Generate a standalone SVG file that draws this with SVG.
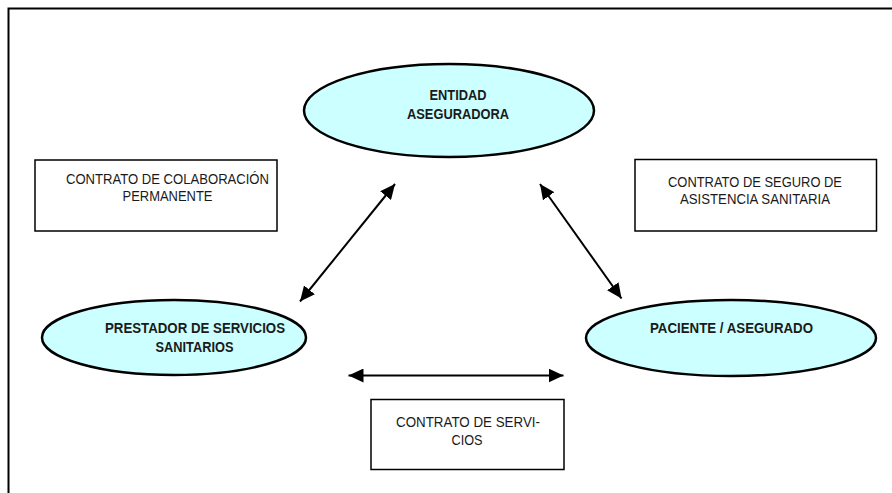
<svg xmlns="http://www.w3.org/2000/svg" width="892" height="493" viewBox="0 0 892 493">
  <style>
    .ell { fill: #CCFFFF; stroke: #000; stroke-width: 2.5; }
    .box { fill: #fff; stroke: #000; stroke-width: 1.5; }
    .lbl { font-family: "Liberation Sans", Arial, sans-serif; font-size: 14px; fill: #1a1a1a; text-anchor: middle; }
    .b { font-weight: bold; }
    .con { stroke: #000; stroke-width: 2; fill: none; marker-start: url(#ah); marker-end: url(#ah); }
  </style>
  <defs>
    <marker id="ah" markerUnits="userSpaceOnUse" markerWidth="16" markerHeight="14" refX="15" refY="7" orient="auto-start-reverse">
      <path d="M0,0 L15,7 L0,14 z" fill="#000"/>
    </marker>
  </defs>
  <rect x="0" y="0" width="892" height="493" fill="#fff"/>
  <rect x="8.5" y="8.5" width="900" height="500" fill="none" stroke="#000" stroke-width="2"/>

  <g id="connectors">
    <line class="con" x1="395" y1="184" x2="300" y2="301.5"/>
    <line class="con" x1="540" y1="184" x2="621.5" y2="298.5"/>
    <line class="con" x1="348.5" y1="375.5" x2="563.5" y2="375.5"/>
  </g>

  <g id="entidad">
    <ellipse class="ell" cx="449" cy="110.5" rx="145" ry="46.5"/>
    <text class="lbl b" x="458" y="99.5" textLength="57" lengthAdjust="spacingAndGlyphs">ENTIDAD</text>
    <text class="lbl b" x="458" y="118.5" textLength="102" lengthAdjust="spacingAndGlyphs">ASEGURADORA</text>
  </g>

  <g id="prestador">
    <ellipse class="ell" cx="174" cy="337.5" rx="132" ry="37.5"/>
    <text class="lbl b" x="195" y="333" textLength="180" lengthAdjust="spacingAndGlyphs">PRESTADOR DE SERVICIOS</text>
    <text class="lbl b" x="194.5" y="352" textLength="78" lengthAdjust="spacingAndGlyphs">SANITARIOS</text>
  </g>

  <g id="paciente">
    <ellipse class="ell" cx="731" cy="338" rx="145" ry="38"/>
    <text class="lbl b" x="731.5" y="333" textLength="163" lengthAdjust="spacingAndGlyphs">PACIENTE / ASEGURADO</text>
  </g>

  <g id="contrato-colaboracion">
    <rect class="box" x="35" y="160" width="242" height="71"/>
    <text class="lbl" x="167.5" y="184" textLength="203" lengthAdjust="spacingAndGlyphs">CONTRATO DE COLABORACIÓN</text>
    <text class="lbl" x="167.5" y="200.5" textLength="90" lengthAdjust="spacingAndGlyphs">PERMANENTE</text>
  </g>

  <g id="contrato-seguro">
    <rect class="box" x="635" y="159.5" width="241.5" height="71.5"/>
    <text class="lbl" x="755" y="187" textLength="174" lengthAdjust="spacingAndGlyphs">CONTRATO DE SEGURO DE</text>
    <text class="lbl" x="755" y="203.5" textLength="150" lengthAdjust="spacingAndGlyphs">ASISTENCIA SANITARIA</text>
  </g>

  <g id="contrato-servicios">
    <rect class="box" x="371" y="399.5" width="193" height="70"/>
    <text class="lbl" x="468" y="427" textLength="144" lengthAdjust="spacingAndGlyphs">CONTRATO DE SERVI-</text>
    <text class="lbl" x="467" y="445" textLength="31" lengthAdjust="spacingAndGlyphs">CIOS</text>
  </g>
</svg>
